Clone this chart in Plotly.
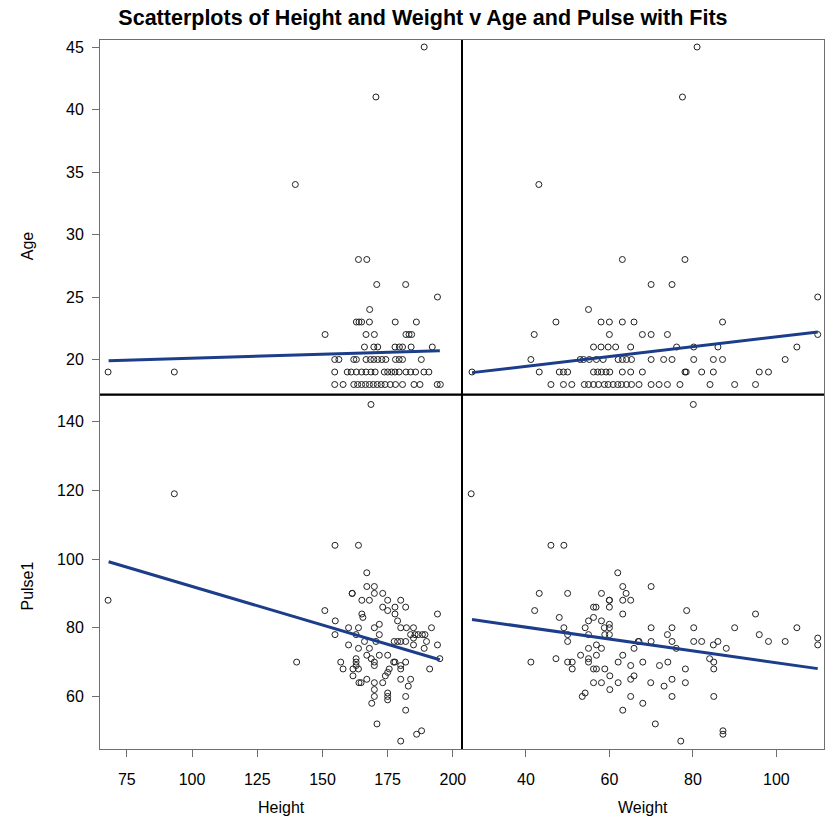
import plotly.graph_objects as go
from plotly.subplots import make_subplots

# ---------------- data ----------------
# Height vs Age
ha_height = [67.8, 93.2, 139.6, 170.5, 189,
             163.8, 167,
             170.8, 181.9,
             194.1,
             168.1,
             163, 164, 165, 168, 177.9, 186,
             151, 166.7, 169.9, 182, 183.2, 184.2,
             166.1, 169.7, 171.2, 177.8, 179.5, 180.7, 184, 192.1,
             154.7, 156.3, 162, 163, 166.7, 168.4, 169.7, 171.2, 172.8, 174.3, 178, 179.4, 180.7, 187.9,
             154.7, 159.5, 161, 163, 165, 166.7, 168.6, 170.2, 173.7, 175, 176.5, 177.8, 179.4, 182, 183.8, 185.7, 188.9, 190.8,
             154.7, 157.9, 162, 163.5, 165, 166.5, 168, 169.5, 171, 172.5, 174, 176, 178, 180.7, 185.1, 187.4, 194, 195.2]
ha_age = [19, 19, 34, 41, 45,
          28, 28,
          26, 26,
          25,
          24,
          23, 23, 23, 23, 23, 23,
          22, 22, 22, 22, 22, 22,
          21, 21, 21, 21, 21, 21, 21, 21,
          20, 20, 20, 20, 20, 20, 20, 20, 20, 20, 20, 20, 20, 20,
          19, 19, 19, 19, 19, 19, 19, 19, 19, 19, 19, 19, 19, 19, 19, 19, 19, 19,
          18, 18, 18, 18, 18, 18, 18, 18, 18, 18, 18, 18, 18, 18, 18, 18, 18, 18]

# Weight vs Age
wa_weight = [27.1, 43.1, 77.5, 81,
             63.1, 78.1,
             70, 75,
             109.9,
             55,
             47.2, 58, 60, 63.1, 65.9, 87.1,
             42, 60, 67.9, 70, 73.9, 109.9,
             56.2, 58, 59.7, 61.5, 65.1, 76.1, 80.2, 86, 104.9,
             41.2, 53, 53.8, 55.2, 56.9, 58.5, 62.1, 63.1, 64.1, 65.3, 70, 73, 75, 80.2, 84.9, 87.1, 102.1,
             43.2, 48, 49, 50, 56.2, 57.2, 58.1, 59.2, 60.1, 63.1, 65.1, 67.9, 78.1, 78.4, 82.1, 84.9, 95.9, 98.1,
             46, 49, 51, 54, 55, 56.2, 57.4, 58.8, 59.7, 60.9, 62, 62.9, 64.1, 65.3, 67.1, 70, 71.9, 73.9, 76.9, 84.1, 90, 95]
wa_age = [19, 34, 41, 45,
          28, 28,
          26, 26,
          25,
          24,
          23, 23, 23, 23, 23, 23,
          22, 22, 22, 22, 22, 22,
          21, 21, 21, 21, 21, 21, 21, 21, 21,
          20, 20, 20, 20, 20, 20, 20, 20, 20, 20, 20, 20, 20, 20, 20, 20, 20,
          19, 19, 19, 19, 19, 19, 19, 19, 19, 19, 19, 19, 19, 19, 19, 19, 19, 19,
          18, 18, 18, 18, 18, 18, 18, 18, 18, 18, 18, 18, 18, 18, 18, 18, 18, 18, 18, 18, 18, 18]

# Height vs Pulse1
hp_height = [67.8, 93.2, 168.6, 140.1,
             154.8, 163.8, 167, 167, 169.9, 161.4, 161.4, 169.9, 173.1,
             165.1, 168, 175, 180, 150.9, 173.1, 175, 177.8, 181.9, 177.8,
             165.1, 165.5, 194.1, 154.9, 178.8, 160, 163.8, 169.9, 171.8,
             180, 182.2, 184.9, 191.8, 154.8, 162.9, 171.8,
             183.8, 185.5, 186.7, 188.3, 189.3, 184.9,
             160, 163.8, 166.1, 168, 170.5, 177.5, 178.8, 180, 181.9,
             184.9, 189, 189.9, 194.1,
             157, 162.9, 162.9, 162.9, 157.9, 161.7, 163.8,
             167, 168.7, 169.9, 169.9, 171.8, 175, 161.7, 164, 164.8, 167,
             169.9, 173.1, 174.1, 175, 175.6, 177.3, 177.8, 180, 180, 181.9,
             180, 183.8, 182.9, 191.1, 195, 169.9, 169.9, 168.9,
             175, 175, 175, 181.9, 181.9, 170.9, 180, 186.1, 188]
hp_pulse = [88, 119, 145, 70,
            104, 104, 96, 92, 92, 90, 90, 90, 90,
            88, 88, 88, 88, 85, 86, 85, 86, 86, 84,
            84, 83, 84, 82, 82, 80, 80, 80, 81,
            80, 80, 80, 80, 78, 78, 78,
            78, 78, 78, 78, 78, 77,
            75, 74, 76, 74, 76, 76, 76, 76, 76,
            75, 74, 76, 75,
            70, 71, 70, 69, 68, 68, 68,
            72, 71, 70, 69, 72, 72, 66, 64, 64, 65,
            64, 64, 66, 67, 68, 70, 70, 69, 68, 70,
            65, 65, 63, 68, 71, 62, 60, 58,
            61, 60, 59, 60, 56, 52, 47, 49, 50]

# Weight vs Pulse1
wp_weight = [26.9, 80.1,
             46, 49.1, 62, 63.2, 64, 63.2, 65.1, 43.2, 50, 58.1, 60, 60,
             42.1, 56.2, 56.8, 60, 63.2, 48, 56.2, 55, 58.1, 60, 60,
             54.2, 49.1, 58.8, 50, 50, 55, 58.9, 60, 55, 56.9, 58.1, 65.9, 66.9,
             70, 78.5, 95, 70, 75, 80.2, 90, 104.9, 73.9, 95.9,
             67.1, 70, 75, 80.2, 82.1, 84.9, 86, 88, 98.1, 102.1, 109.9, 109.9,
             76, 41.2, 47.2, 50, 51.1, 51.1, 53.1, 55, 55, 56.9, 56.2, 56.9,
             58.9, 60.1, 56.2, 58.1, 60.1, 53.5, 54.2, 62.1, 63.2, 62.1,
             65.1, 65.1, 65.9, 65.1, 63.2, 68, 68, 69.9, 71, 72, 73.1, 74,
             75, 75, 77.1, 78.2, 78.2, 84, 85, 85, 85, 87.2, 87.2]
wp_pulse = [119, 145,
            104, 104, 96, 92, 90, 88, 88, 90, 90, 90, 88, 88,
            85, 86, 86, 86, 84, 83, 83, 82, 82, 81, 80,
            80, 80, 80, 78, 76, 78, 78, 78, 74, 75, 74, 74, 76,
            92, 85, 84, 80, 80, 80, 80, 80, 78, 78,
            76, 76, 76, 76, 76, 75, 76, 74, 76, 76, 77, 75,
            74, 70, 71, 70, 70, 68, 72, 71, 70, 72, 68, 68,
            68, 66, 64, 64, 62, 60, 61, 70, 72, 64,
            69, 65, 66, 60, 56, 70, 58, 64, 52, 69, 63, 70,
            65, 60, 47, 68, 64, 71, 70, 68, 60, 50, 49]

# Fit lines (end points)
fit_ha_x = [68, 195]
fit_ha_y = [19.9, 20.7]
fit_wa_x = [27.1, 109.9]
fit_wa_y = [18.95, 22.2]
fit_hp_x = [68, 195]
fit_hp_y = [99.2, 70.7]
fit_wp_x = [27.1, 109.9]
fit_wp_y = [82.4, 68.1]

height_ticks = [75, 100, 125, 150, 175, 200]
weight_ticks = [40, 60, 80, 100]
age_ticks = [20, 25, 30, 35, 40, 45]
pulse_ticks = [60, 80, 100, 120, 140]

height_range = [64.7, 203.5]
weight_range = [24.7, 111.4]
age_range = [17.2, 45.56]
pulse_range = [44.7, 147.9]

# ---------------- figure ----------------
FONT = "Liberation Sans, Arial, sans-serif"
MARK = dict(symbol="circle-open", size=6, color="#222", line=dict(width=1, color="#222"))
FITC = "#1c3d8a"

fig = make_subplots(rows=2, cols=2, horizontal_spacing=0, vertical_spacing=0)

panels = [
    (1, 1, ha_height, ha_age, fit_ha_x, fit_ha_y),
    (1, 2, wa_weight, wa_age, fit_wa_x, fit_wa_y),
    (2, 1, hp_height, hp_pulse, fit_hp_x, fit_hp_y),
    (2, 2, wp_weight, wp_pulse, fit_wp_x, fit_wp_y),
]
for r, c, xs, ys, fx, fy in panels:
    fig.add_trace(go.Scatter(x=xs, y=ys, mode="markers", marker=MARK,
                             showlegend=False, hoverinfo="x+y"), row=r, col=c)
    fig.add_trace(go.Scatter(x=fx, y=fy, mode="lines",
                             line=dict(color=FITC, width=3),
                             showlegend=False), row=r, col=c)

axis_common = dict(showline=True, linecolor="#6f6f6f", linewidth=1, mirror=True,
                   showgrid=False, zeroline=False,
                   tickfont=dict(family=FONT, size=16, color="#000"),
                   ticklen=7, tickcolor="#6f6f6f", tickwidth=1)

for c, rng, tv in [(1, height_range, height_ticks), (2, weight_range, weight_ticks)]:
    fig.update_xaxes(range=rng, tickvals=tv, ticks="", showticklabels=False,
                     row=1, col=c, **axis_common)
    fig.update_xaxes(range=rng, tickvals=tv, ticks="outside", showticklabels=True,
                     ticklabelstandoff=9, row=2, col=c, **axis_common)

for r, rng, tv in [(1, age_range, age_ticks), (2, pulse_range, pulse_ticks)]:
    fig.update_yaxes(range=rng, tickvals=tv, ticks="outside", showticklabels=True,
                     ticklabelstandoff=5, row=r, col=1, **axis_common)
    fig.update_yaxes(range=rng, tickvals=tv, ticks="", showticklabels=False,
                     row=r, col=2, **axis_common)

# axis labels
lab_font = dict(family=FONT, size=16, color="#000")
fig.add_annotation(text="Height", xref="x3 domain", yref="paper", x=0.5, y=-0.083,
                   yanchor="middle", showarrow=False, font=lab_font)
fig.add_annotation(text="Weight", xref="x4 domain", yref="paper", x=0.5, y=-0.083,
                   yanchor="middle", showarrow=False, font=lab_font)
fig.add_annotation(text="Age", xref="paper", yref="y domain", x=-0.1, y=0.42,
                   xanchor="center", showarrow=False, textangle=-90, font=lab_font)
fig.add_annotation(text="Pulse1", xref="paper", yref="y3 domain", x=-0.1, y=0.46,
                   xanchor="center", showarrow=False, textangle=-90, font=lab_font)

# black dividers between the panels
fig.add_shape(type="line", xref="paper", yref="paper", x0=0.5, x1=0.5, y0=0, y1=1,
              line=dict(color="#000", width=2), layer="above")
fig.add_shape(type="line", xref="paper", yref="paper", x0=0, x1=1, y0=0.5, y1=0.5,
              line=dict(color="#000", width=2), layer="above")

fig.update_layout(
    width=831, height=817,
    margin=dict(l=100, r=3, t=40, b=68),
    paper_bgcolor="white", plot_bgcolor="white",
    title=dict(text="<b>Scatterplots of Height and Weight v Age and Pulse with Fits</b>",
               x=0.509, xanchor="center", y=0.979, yanchor="middle",
               font=dict(family=FONT, size=21.5, color="#000")),
)

fig.write_html("out.html")
